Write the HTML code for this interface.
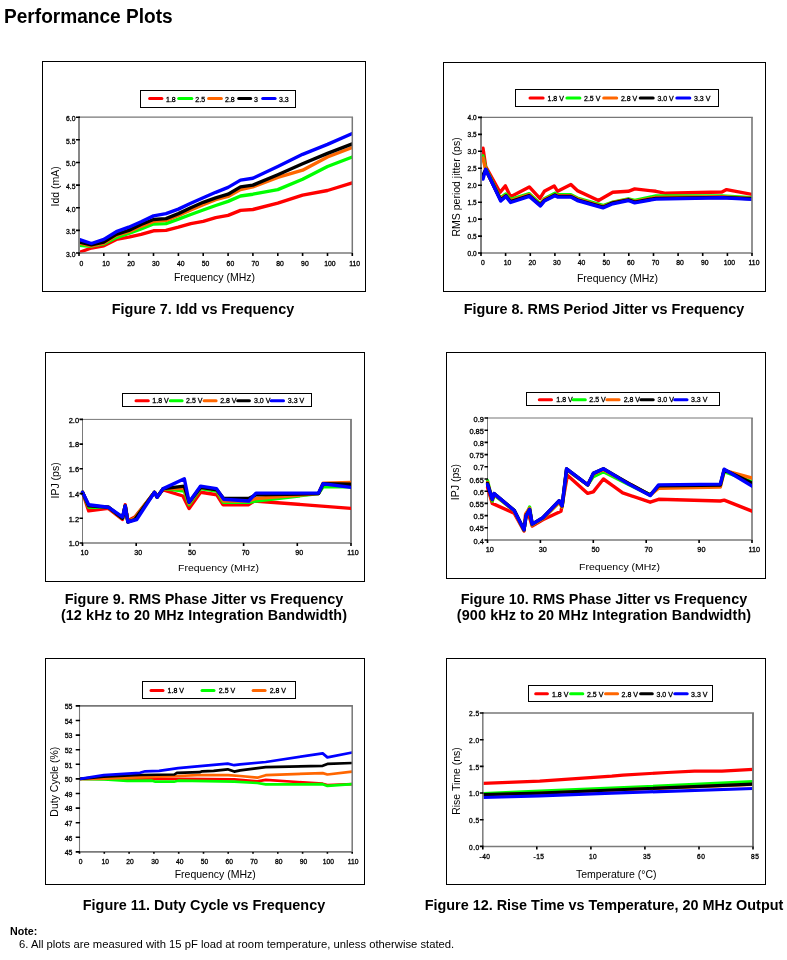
<!DOCTYPE html>
<html><head><meta charset="utf-8"><title>Performance Plots</title>
<style>
html,body{margin:0;padding:0;background:#fff;}
body{width:787px;height:960px;position:relative;overflow:hidden;font-family:"Liberation Sans", sans-serif;color:#000;}
.t{position:absolute;white-space:nowrap;font-weight:bold;will-change:transform;}
.cap{position:absolute;will-change:transform;white-space:nowrap;font-weight:bold;font-size:14.4px;line-height:15.5px;text-align:center;}
svg{position:absolute;left:0;top:0;will-change:transform;}
svg text{font-family:"Liberation Sans", sans-serif;fill:#000;}
svg text.s{stroke:#000;stroke-width:0.3px;}
</style></head><body>
<div class="t" style="left:4.4px;top:4.6px;font-size:19.1px;transform:scale(1,1.07);transform-origin:0 0;">Performance Plots</div>
<svg width="787" height="960" viewBox="0 0 787 960">
<rect x="42.5" y="61.5" width="323.0" height="230.0" fill="none" stroke="#000" stroke-width="1"/>
<clipPath id="c7"><rect x="79.9" y="114.2" width="272.40000000000003" height="140.8"/></clipPath>
<g clip-path="url(#c7)" fill="none" stroke-linejoin="round" stroke-linecap="round" stroke-width="3.4">
<polyline points="79.0,252.5 91.4,248.0 103.8,245.8 116.3,239.4 128.7,237.2 141.1,234.4 153.5,230.8 166.0,230.4 178.4,227.2 190.8,223.6 203.2,221.3 215.7,217.7 228.1,215.4 240.5,210.4 252.9,209.5 277.8,203.2 302.6,195.1 327.5,190.5 352.3,182.8" stroke="#ff0000"/>
<polyline points="79.0,245.3 91.4,246.2 103.8,243.9 116.3,237.6 128.7,233.5 141.1,229.0 153.5,224.0 166.0,223.6 178.4,219.1 190.8,214.5 203.2,210.0 215.7,205.5 228.1,201.4 240.5,196.0 252.9,194.2 277.8,189.6 302.6,179.2 327.5,166.5 352.3,157.0" stroke="#00ff00"/>
<polyline points="79.0,243.0 91.4,245.8 103.8,243.0 116.3,235.3 128.7,231.7 141.1,226.3 153.5,221.3 166.0,220.4 178.4,215.4 190.8,210.0 203.2,204.6 215.7,199.6 228.1,196.4 240.5,189.6 252.9,186.9 277.8,177.4 302.6,170.2 327.5,157.0 352.3,147.5" stroke="#ff6600"/>
<polyline points="79.0,242.1 91.4,244.9 103.8,242.1 116.3,234.4 128.7,230.4 141.1,224.5 153.5,219.5 166.0,218.6 178.4,213.6 190.8,207.7 203.2,202.3 215.7,197.8 228.1,194.2 240.5,186.9 252.9,185.1 277.8,174.7 302.6,163.8 327.5,153.4 352.3,143.9" stroke="#000000"/>
<polyline points="79.0,239.4 91.4,243.5 103.8,239.4 116.3,231.7 128.7,227.2 141.1,221.8 153.5,215.9 166.0,213.6 178.4,209.1 190.8,203.2 203.2,197.8 215.7,192.3 228.1,187.4 240.5,180.1 252.9,178.3 277.8,166.5 302.6,154.3 327.5,144.4 352.3,133.5" stroke="#0000ff"/>
</g>
<path d="M79,117.2H353.05" fill="none" stroke="#777" stroke-width="1.3"/>
<path d="M352.3,117.2V253" fill="none" stroke="#777" stroke-width="1.5"/>
<path d="M79,116.55V253" fill="none" stroke="#7a7a7a" stroke-width="1.8"/>
<path d="M78.1,253H352.95" fill="none" stroke="#7a7a7a" stroke-width="1.7"/>
<path d="M76,253.0H79.9M76,230.4H79.9M76,207.7H79.9M76,185.1H79.9M76,162.5H79.9M76,139.8H79.9M76,117.2H79.9M79.0,253V256M103.8,253V256M128.7,253V256M153.5,253V256M178.4,253V256M203.2,253V256M228.1,253V256M252.9,253V256M277.8,253V256M302.6,253V256M327.5,253V256M352.3,253V256" stroke="#000" stroke-width="1.6"/>
<text x="75.5" y="256.9" class="s" text-anchor="end" font-size="6.8">3.0</text>
<text x="75.5" y="234.3" class="s" text-anchor="end" font-size="6.8">3.5</text>
<text x="75.5" y="211.6" class="s" text-anchor="end" font-size="6.8">4.0</text>
<text x="75.5" y="189.0" class="s" text-anchor="end" font-size="6.8">4.5</text>
<text x="75.5" y="166.4" class="s" text-anchor="end" font-size="6.8">5.0</text>
<text x="75.5" y="143.7" class="s" text-anchor="end" font-size="6.8">5.5</text>
<text x="75.5" y="121.1" class="s" text-anchor="end" font-size="6.8">6.0</text>
<text x="81.3" y="266.3" class="s" text-anchor="middle" font-size="6.8">0</text>
<text x="106.1" y="266.3" class="s" text-anchor="middle" font-size="6.8">10</text>
<text x="131.0" y="266.3" class="s" text-anchor="middle" font-size="6.8">20</text>
<text x="155.8" y="266.3" class="s" text-anchor="middle" font-size="6.8">30</text>
<text x="180.7" y="266.3" class="s" text-anchor="middle" font-size="6.8">40</text>
<text x="205.5" y="266.3" class="s" text-anchor="middle" font-size="6.8">50</text>
<text x="230.4" y="266.3" class="s" text-anchor="middle" font-size="6.8">60</text>
<text x="255.2" y="266.3" class="s" text-anchor="middle" font-size="6.8">70</text>
<text x="280.1" y="266.3" class="s" text-anchor="middle" font-size="6.8">80</text>
<text x="304.9" y="266.3" class="s" text-anchor="middle" font-size="6.8">90</text>
<text x="329.8" y="266.3" class="s" text-anchor="middle" font-size="6.8">100</text>
<text x="354.6" y="266.3" class="s" text-anchor="middle" font-size="6.8">110</text>
<text x="214.5" y="281.1" text-anchor="middle" font-size="10.5">Frequency (MHz)</text>
<text transform="translate(59.1,186.4) rotate(-90)" text-anchor="middle" font-size="10.5">Idd (mA)</text>
<rect x="140.5" y="90.5" width="155.0" height="17.0" fill="#fff" stroke="#000" stroke-width="1"/>
<path d="M149.6,98.4H161.9" stroke="#ff0000" stroke-width="3" stroke-linecap="round"/>
<text class="s" x="166" y="101.8" font-size="7">1.8</text>
<path d="M178.7,98.4H191.8" stroke="#00ff00" stroke-width="3" stroke-linecap="round"/>
<text class="s" x="195.3" y="101.8" font-size="7">2.5</text>
<path d="M208.6,98.4H221.4" stroke="#ff6600" stroke-width="3" stroke-linecap="round"/>
<text class="s" x="225" y="101.8" font-size="7">2.8</text>
<path d="M238.7,98.4H250.7" stroke="#000000" stroke-width="3" stroke-linecap="round"/>
<text class="s" x="254" y="101.8" font-size="7">3</text>
<path d="M262.7,98.4H275.1" stroke="#0000ff" stroke-width="3" stroke-linecap="round"/>
<text class="s" x="279" y="101.8" font-size="7">3.3</text>
<rect x="443.5" y="62.5" width="322.0" height="229.0" fill="none" stroke="#000" stroke-width="1"/>
<clipPath id="c8"><rect x="481.95" y="114.4" width="270.05" height="140.6"/></clipPath>
<g clip-path="url(#c8)" fill="none" stroke-linejoin="round" stroke-linecap="round" stroke-width="3.4">
<polyline points="483.0,148.2 485.7,166.6 500.0,192.3 505.4,185.9 510.6,196.7 529.3,186.9 539.9,198.4 544.3,191.3 554.2,185.9 557.6,191.3 570.9,184.5 577.3,190.6 598.5,200.5 612.8,192.3 628.3,191.3 634.7,188.9 655.9,191.3 665.8,193.3 721.9,192.0 726.6,189.6 752.0,194.4" stroke="#ff0000"/>
<polyline points="483.0,156.0 485.7,168.2 500.2,198.1 505.6,194.0 510.6,199.4 529.3,193.7 540.1,203.8 544.3,198.8 554.9,193.3 557.6,194.7 570.9,194.7 577.3,198.1 603.0,205.5 612.8,202.2 628.3,198.8 634.7,200.5 655.9,196.0 721.9,196.0 752.0,197.7" stroke="#00ff00"/>
<polyline points="483.0,158.1 485.7,169.9 500.2,198.8 505.6,195.4 510.6,200.5 529.3,194.7 540.1,204.9 544.3,199.4 554.9,194.7 557.6,195.7 570.9,195.7 577.3,198.8 603.0,206.6 612.8,202.5 628.3,199.4 634.7,201.5 655.9,197.4 721.9,196.7 752.0,198.4" stroke="#ff6600"/>
<polyline points="483.0,175.0 485.7,169.6 500.7,200.1 505.9,195.7 510.6,201.5 529.3,195.7 540.4,205.2 544.3,200.5 554.9,195.0 557.6,196.4 570.9,196.4 577.3,199.8 603.0,207.2 612.8,202.8 628.3,199.8 634.7,202.2 655.9,198.4 721.9,197.4 752.0,198.8" stroke="#000000"/>
<polyline points="483.0,179.1 485.7,169.3 500.7,201.1 505.9,196.4 510.6,202.5 529.3,196.4 540.4,205.9 544.3,201.1 554.9,195.7 557.6,197.1 570.9,197.1 577.3,200.5 603.0,207.9 612.8,203.8 628.3,200.5 634.7,202.8 655.9,199.1 721.9,197.7 752.0,199.4" stroke="#0000ff"/>
</g>
<path d="M481,117.4H752.8" fill="none" stroke="#777" stroke-width="1.2"/>
<path d="M752,117.4V253" fill="none" stroke="#777" stroke-width="1.6"/>
<path d="M481,116.80000000000001V253" fill="none" stroke="#7a7a7a" stroke-width="1.9"/>
<path d="M480.05,253H752.6" fill="none" stroke="#7a7a7a" stroke-width="1.7"/>
<path d="M478,253.0H481.95M478,236.1H481.95M478,219.1H481.95M478,202.2H481.95M478,185.2H481.95M478,168.2H481.95M478,151.3H481.95M478,134.4H481.95M478,117.4H481.95M481.0,253V256M505.6,253V256M530.3,253V256M554.9,253V256M579.5,253V256M604.2,253V256M628.8,253V256M653.5,253V256M678.1,253V256M702.7,253V256M727.4,253V256M752.0,253V256" stroke="#000" stroke-width="1.6"/>
<text x="476.6" y="255.5" class="s" text-anchor="end" font-size="6.5">0.0</text>
<text x="476.6" y="238.6" class="s" text-anchor="end" font-size="6.5">0.5</text>
<text x="476.6" y="221.6" class="s" text-anchor="end" font-size="6.5">1.0</text>
<text x="476.6" y="204.7" class="s" text-anchor="end" font-size="6.5">1.5</text>
<text x="476.6" y="187.7" class="s" text-anchor="end" font-size="6.5">2.0</text>
<text x="476.6" y="170.8" class="s" text-anchor="end" font-size="6.5">2.5</text>
<text x="476.6" y="153.8" class="s" text-anchor="end" font-size="6.5">3.0</text>
<text x="476.6" y="136.9" class="s" text-anchor="end" font-size="6.5">3.5</text>
<text x="476.6" y="119.9" class="s" text-anchor="end" font-size="6.5">4.0</text>
<text x="483.0" y="264.5" class="s" text-anchor="middle" font-size="6.8">0</text>
<text x="507.6" y="264.5" class="s" text-anchor="middle" font-size="6.8">10</text>
<text x="532.3" y="264.5" class="s" text-anchor="middle" font-size="6.8">20</text>
<text x="556.9" y="264.5" class="s" text-anchor="middle" font-size="6.8">30</text>
<text x="581.5" y="264.5" class="s" text-anchor="middle" font-size="6.8">40</text>
<text x="606.2" y="264.5" class="s" text-anchor="middle" font-size="6.8">50</text>
<text x="630.8" y="264.5" class="s" text-anchor="middle" font-size="6.8">60</text>
<text x="655.5" y="264.5" class="s" text-anchor="middle" font-size="6.8">70</text>
<text x="680.1" y="264.5" class="s" text-anchor="middle" font-size="6.8">80</text>
<text x="704.7" y="264.5" class="s" text-anchor="middle" font-size="6.8">90</text>
<text x="729.4" y="264.5" class="s" text-anchor="middle" font-size="6.8">100</text>
<text x="754.0" y="264.5" class="s" text-anchor="middle" font-size="6.8">110</text>
<text x="617.5" y="282.4" text-anchor="middle" font-size="10.5">Frequency (MHz)</text>
<text transform="translate(460.0,186.9) rotate(-90)" text-anchor="middle" font-size="10.5">RMS period jitter (ps)</text>
<rect x="515.5" y="89.5" width="203.0" height="17.0" fill="#fff" stroke="#000" stroke-width="1"/>
<path d="M530.0,98.0H543.1" stroke="#ff0000" stroke-width="3" stroke-linecap="round"/>
<text class="s" x="547.5" y="100.7" font-size="7">1.8 V</text>
<path d="M566.9,98.0H579.9" stroke="#00ff00" stroke-width="3" stroke-linecap="round"/>
<text class="s" x="584" y="100.7" font-size="7">2.5 V</text>
<path d="M603.7,98.0H616.7" stroke="#ff6600" stroke-width="3" stroke-linecap="round"/>
<text class="s" x="620.9" y="100.7" font-size="7">2.8 V</text>
<path d="M640.2,98.0H653.2" stroke="#000000" stroke-width="3" stroke-linecap="round"/>
<text class="s" x="657.4" y="100.7" font-size="7">3.0 V</text>
<path d="M676.8,98.0H689.8" stroke="#0000ff" stroke-width="3" stroke-linecap="round"/>
<text class="s" x="694" y="100.7" font-size="7">3.3 V</text>
<rect x="45.5" y="352.5" width="319.0" height="229.0" fill="none" stroke="#000" stroke-width="1"/>
<path d="M82.5,419.4H351.9" fill="none" stroke="#777" stroke-width="1"/>
<path d="M351,419.4V543" fill="none" stroke="#777" stroke-width="1.8"/>
<path d="M82.5,418.9V543" fill="none" stroke="#7a7a7a" stroke-width="1"/>
<path d="M82.0,543H351.5" fill="none" stroke="#7a7a7a" stroke-width="1.7"/>
<clipPath id="c9"><rect x="80.5" y="416.4" width="270.5" height="128.60000000000002"/></clipPath>
<g clip-path="url(#c9)" fill="none" stroke-linejoin="round" stroke-linecap="round" stroke-width="3.4">
<polyline points="82.5,492.3 88.7,510.9 108.3,508.4 122.5,519.5 125.2,504.7 127.9,520.8 134.9,517.0 154.5,492.3 157.1,496.0 163.3,489.9 182.9,496.0 189.1,508.4 200.6,492.3 216.8,494.8 222.9,504.7 248.7,504.7 254.1,501.0 318.5,505.9 351.0,508.4" stroke="#ff0000"/>
<polyline points="82.5,492.3 88.7,507.2 108.3,507.2 122.5,518.3 125.2,505.9 127.9,522.0 134.9,518.3 154.5,492.3 157.1,497.3 163.3,488.6 184.3,491.1 189.1,504.7 200.6,488.6 216.8,491.1 223.2,502.2 248.7,502.2 256.0,501.0 318.5,493.6 323.1,486.8 351.0,486.8" stroke="#00ff00"/>
<polyline points="82.5,492.3 88.7,505.9 108.3,507.2 122.5,518.3 125.2,505.9 127.9,522.0 134.9,518.3 154.5,492.3 157.1,497.3 163.3,488.6 184.3,488.6 189.1,503.4 200.6,487.4 216.8,489.9 223.5,501.0 248.7,501.0 256.0,498.5 318.5,493.6 323.1,483.1 351.0,482.4" stroke="#ff6600"/>
<polyline points="82.5,492.3 88.7,505.9 108.3,507.2 122.5,518.3 125.2,505.9 127.9,522.0 134.9,519.5 154.5,492.3 157.1,497.3 163.3,488.6 184.3,486.1 189.1,502.2 200.6,487.4 216.8,489.9 223.7,498.5 248.7,498.5 256.0,494.8 318.5,493.6 323.1,483.7 351.0,484.3" stroke="#000000"/>
<polyline points="82.5,492.3 88.7,504.7 108.3,507.2 122.5,517.0 125.2,505.9 127.9,522.0 136.7,519.5 154.5,492.3 157.1,497.3 163.3,488.6 184.3,478.7 189.1,502.2 200.6,486.1 216.5,488.6 223.7,499.2 248.7,501.0 256.0,493.1 318.5,493.1 323.1,483.7 351.0,487.4" stroke="#0000ff"/>
</g>
<path d="M79.5,543.0H83.0M79.5,518.3H83.0M79.5,493.6H83.0M79.5,468.8H83.0M79.5,444.1H83.0M79.5,419.4H83.0M82.5,543V546M136.2,543V546M189.9,543V546M243.6,543V546M297.3,543V546M351.0,543V546" stroke="#000" stroke-width="1.6"/>
<text x="79.1" y="546.2" class="s" text-anchor="end" font-size="7.5">1.0</text>
<text x="79.1" y="521.5" class="s" text-anchor="end" font-size="7.5">1.2</text>
<text x="79.1" y="496.8" class="s" text-anchor="end" font-size="7.5">1.4</text>
<text x="79.1" y="472.0" class="s" text-anchor="end" font-size="7.5">1.6</text>
<text x="79.1" y="447.3" class="s" text-anchor="end" font-size="7.5">1.8</text>
<text x="79.1" y="422.6" class="s" text-anchor="end" font-size="7.5">2.0</text>
<text x="84.5" y="555" class="s" text-anchor="middle" font-size="7.1">10</text>
<text x="138.2" y="555" class="s" text-anchor="middle" font-size="7.1">30</text>
<text x="191.9" y="555" class="s" text-anchor="middle" font-size="7.1">50</text>
<text x="245.6" y="555" class="s" text-anchor="middle" font-size="7.1">70</text>
<text x="299.3" y="555" class="s" text-anchor="middle" font-size="7.1">90</text>
<text x="353.0" y="555" class="s" text-anchor="middle" font-size="7.1">110</text>
<text transform="translate(218.5,570.7) scale(1,0.88)" text-anchor="middle" font-size="10.5">Frequency (MHz)</text>
<text transform="translate(58.9,480.4) rotate(-90)" text-anchor="middle" font-size="10.5">IPJ (ps)</text>
<rect x="122.5" y="393.5" width="189.0" height="13.0" fill="#fff" stroke="#000" stroke-width="1"/>
<path d="M136.0,400.7H148.3" stroke="#ff0000" stroke-width="3" stroke-linecap="round"/>
<text class="s" x="152.3" y="403.1" font-size="7">1.8 V</text>
<path d="M170.3,400.7H182.1" stroke="#00ff00" stroke-width="3" stroke-linecap="round"/>
<text class="s" x="186.1" y="403.1" font-size="7">2.5 V</text>
<path d="M204.1,400.7H216.1" stroke="#ff6600" stroke-width="3" stroke-linecap="round"/>
<text class="s" x="220.2" y="403.1" font-size="7">2.8 V</text>
<path d="M237.7,400.7H249.4" stroke="#000000" stroke-width="3" stroke-linecap="round"/>
<text class="s" x="254" y="403.1" font-size="7">3.0 V</text>
<path d="M271.2,400.7H283.5" stroke="#0000ff" stroke-width="3" stroke-linecap="round"/>
<text class="s" x="287.8" y="403.1" font-size="7">3.3 V</text>
<rect x="446.5" y="352.5" width="319.0" height="226.0" fill="none" stroke="#000" stroke-width="1"/>
<path d="M487.5,418H752.8" fill="none" stroke="#777" stroke-width="1.2"/>
<path d="M752,418V540" fill="none" stroke="#777" stroke-width="1.6"/>
<path d="M487.5,417.4V540" fill="none" stroke="#7a7a7a" stroke-width="1"/>
<path d="M487.0,540H752.6" fill="none" stroke="#7a7a7a" stroke-width="1.5"/>
<clipPath id="c10"><rect x="485.5" y="415" width="266.5" height="127"/></clipPath>
<g clip-path="url(#c10)" fill="none" stroke-linejoin="round" stroke-linecap="round" stroke-width="3.4">
<polyline points="487.5,487.5 492.3,503.4 514.2,513.2 524.0,531.0 525.6,514.1 529.6,517.8 532.2,526.1 542.8,519.7 561.0,511.2 567.4,475.3 587.7,493.4 593.3,491.9 603.4,479.0 613.7,486.3 622.7,492.9 650.2,502.2 658.6,499.3 720.3,501.0 724.2,500.2 752.0,511.2" stroke="#ff0000"/>
<polyline points="487.5,480.7 492.3,501.0 494.1,494.9 514.2,510.7 524.0,530.2 526.1,515.6 529.6,507.1 532.2,524.9 542.8,518.5 559.2,502.2 562.1,507.1 566.6,469.7 587.7,484.9 593.3,476.6 603.4,471.7 628.7,484.4 650.2,494.9 658.6,487.5 720.3,485.8 724.2,471.7 752.0,481.7" stroke="#00ff00"/>
<polyline points="487.5,482.4 492.3,499.7 494.1,494.1 514.2,510.7 524.0,530.2 526.1,513.2 529.6,508.3 532.2,524.9 542.8,518.5 559.2,502.2 562.1,507.1 566.6,469.7 587.7,484.9 593.3,474.1 603.4,469.7 628.7,483.4 650.2,495.3 658.6,488.3 720.3,487.1 724.2,470.5 752.0,478.0" stroke="#ff6600"/>
<polyline points="487.5,483.4 492.3,499.5 494.1,493.6 514.2,510.2 524.0,529.8 526.1,515.6 529.6,509.5 532.2,524.1 542.8,517.8 559.2,500.7 562.1,505.8 566.6,468.8 587.7,484.9 593.3,473.4 603.4,468.8 628.7,483.4 650.2,494.9 658.6,485.8 720.3,485.1 724.2,469.7 752.0,483.1" stroke="#000000"/>
<polyline points="487.5,484.4 492.3,499.3 494.1,493.6 514.2,510.5 524.0,529.8 526.1,515.8 529.6,509.5 532.2,524.1 542.8,517.8 559.2,500.7 562.1,505.8 566.6,468.8 587.7,484.9 593.3,473.4 603.4,468.8 628.7,484.1 650.2,495.6 658.6,484.9 720.3,484.1 724.2,469.2 752.0,486.1" stroke="#0000ff"/>
</g>
<path d="M484.5,540.0H488.0M484.5,527.8H488.0M484.5,515.6H488.0M484.5,503.4H488.0M484.5,491.2H488.0M484.5,479.0H488.0M484.5,466.8H488.0M484.5,454.6H488.0M484.5,442.4H488.0M484.5,430.2H488.0M484.5,418.0H488.0M487.5,540V543M540.4,540V543M593.3,540V543M646.2,540V543M699.1,540V543M752.0,540V543" stroke="#000" stroke-width="1.6"/>
<text x="483.9" y="543.5" class="s" text-anchor="end" font-size="7.45">0.4</text>
<text x="483.9" y="531.3" class="s" text-anchor="end" font-size="7.45">0.45</text>
<text x="483.9" y="519.1" class="s" text-anchor="end" font-size="7.45">0.5</text>
<text x="483.9" y="506.9" class="s" text-anchor="end" font-size="7.45">0.55</text>
<text x="483.9" y="494.7" class="s" text-anchor="end" font-size="7.45">0.6</text>
<text x="483.9" y="482.5" class="s" text-anchor="end" font-size="7.45">0.65</text>
<text x="483.9" y="470.3" class="s" text-anchor="end" font-size="7.45">0.7</text>
<text x="483.9" y="458.1" class="s" text-anchor="end" font-size="7.45">0.75</text>
<text x="483.9" y="445.9" class="s" text-anchor="end" font-size="7.45">0.8</text>
<text x="483.9" y="433.7" class="s" text-anchor="end" font-size="7.45">0.85</text>
<text x="483.9" y="421.5" class="s" text-anchor="end" font-size="7.45">0.9</text>
<text x="489.8" y="552" class="s" text-anchor="middle" font-size="7.3">10</text>
<text x="542.7" y="552" class="s" text-anchor="middle" font-size="7.3">30</text>
<text x="595.6" y="552" class="s" text-anchor="middle" font-size="7.3">50</text>
<text x="648.5" y="552" class="s" text-anchor="middle" font-size="7.3">70</text>
<text x="701.4" y="552" class="s" text-anchor="middle" font-size="7.3">90</text>
<text x="754.3" y="552" class="s" text-anchor="middle" font-size="7.3">110</text>
<text transform="translate(619.6,570.4) scale(1,0.88)" text-anchor="middle" font-size="10.5">Frequency (MHz)</text>
<text transform="translate(459.2,482.1) rotate(-90)" text-anchor="middle" font-size="10.5">IPJ (ps)</text>
<rect x="526.5" y="392.5" width="193.0" height="13.0" fill="#fff" stroke="#000" stroke-width="1"/>
<path d="M539.3,399.7H551.5" stroke="#ff0000" stroke-width="3" stroke-linecap="round"/>
<text class="s" x="556.3" y="402.2" font-size="7">1.8 V</text>
<path d="M573.1,399.7H585.3" stroke="#00ff00" stroke-width="3" stroke-linecap="round"/>
<text class="s" x="589.3" y="402.2" font-size="7">2.5 V</text>
<path d="M606.9,399.7H619.1" stroke="#ff6600" stroke-width="3" stroke-linecap="round"/>
<text class="s" x="623.7" y="402.2" font-size="7">2.8 V</text>
<path d="M640.9,399.7H653.2" stroke="#000000" stroke-width="3" stroke-linecap="round"/>
<text class="s" x="657.5" y="402.2" font-size="7">3.0 V</text>
<path d="M674.7,399.7H687.0" stroke="#0000ff" stroke-width="3" stroke-linecap="round"/>
<text class="s" x="691" y="402.2" font-size="7">3.3 V</text>
<rect x="45.5" y="658.5" width="319.0" height="226.0" fill="none" stroke="#000" stroke-width="1"/>
<clipPath id="c11"><rect x="80.05" y="702.9" width="272.15" height="151.0"/></clipPath>
<g clip-path="url(#c11)" fill="none" stroke-linejoin="round" stroke-linecap="round" stroke-width="2.7">
<polyline points="79.5,778.9 129.1,778.9 178.7,778.9 234.2,779.3 257.3,781.4 265.7,779.9 322.7,783.7 327.4,785.0 352.2,784.2" stroke="#ff0000"/>
<polyline points="79.5,778.9 104.3,779.5 127.1,780.9 152.1,780.7 155.4,781.7 174.0,781.7 178.2,780.7 234.2,781.7 257.3,783.0 265.7,784.4 322.7,784.2 327.4,785.9 352.2,784.2" stroke="#00ff00"/>
<polyline points="79.5,778.9 104.3,778.6 144.7,777.1 178.2,776.0 197.3,775.1 228.2,775.1 240.1,776.0 257.3,777.7 265.7,775.2 322.7,773.1 327.4,774.5 352.2,771.6" stroke="#ff6600"/>
<polyline points="79.5,778.9 103.8,776.7 140.0,775.0 174.4,774.5 176.9,772.8 199.7,772.2 202.2,771.3 213.6,770.9 227.7,769.3 234.2,771.6 240.1,770.4 265.7,767.2 322.7,765.8 327.4,763.9 352.2,763.0" stroke="#000000"/>
<polyline points="79.5,778.9 103.8,775.2 140.0,772.8 145.2,771.3 159.1,770.9 178.2,768.2 197.3,766.3 227.7,763.6 234.2,765.2 240.1,764.4 265.7,762.0 322.7,753.4 327.4,757.4 352.2,752.5" stroke="#0000ff"/>
</g>
<path d="M79.5,705.9H352.95" fill="none" stroke="#777" stroke-width="1.6"/>
<path d="M352.2,705.9V851.9" fill="none" stroke="#777" stroke-width="1.5"/>
<path d="M79.5,705.1V851.9" fill="none" stroke="#7a7a7a" stroke-width="1.1"/>
<path d="M78.95,851.9H353.0" fill="none" stroke="#7a7a7a" stroke-width="1.6"/>
<path d="M75.7,851.9H80.05M75.7,837.3H80.05M75.7,822.7H80.05M75.7,808.1H80.05M75.7,793.5H80.05M75.7,778.9H80.05M75.7,764.3H80.05M75.7,749.7H80.05M75.7,735.1H80.05M75.7,720.5H80.05M75.7,705.9H80.05M79.5,851.9V853.6999999999999M104.3,851.9V853.6999999999999M129.1,851.9V853.6999999999999M153.9,851.9V853.6999999999999M178.7,851.9V853.6999999999999M203.5,851.9V853.6999999999999M228.2,851.9V853.6999999999999M253.0,851.9V853.6999999999999M277.8,851.9V853.6999999999999M302.6,851.9V853.6999999999999M327.4,851.9V853.6999999999999M352.2,851.9V853.6999999999999" stroke="#000" stroke-width="1.6"/>
<text x="72.5" y="855.1" class="s" text-anchor="end" font-size="7.0">45</text>
<text x="72.5" y="840.5" class="s" text-anchor="end" font-size="7.0">46</text>
<text x="72.5" y="825.9" class="s" text-anchor="end" font-size="7.0">47</text>
<text x="72.5" y="811.3" class="s" text-anchor="end" font-size="7.0">48</text>
<text x="72.5" y="796.7" class="s" text-anchor="end" font-size="7.0">49</text>
<text x="72.5" y="782.1" class="s" text-anchor="end" font-size="7.0">50</text>
<text x="72.5" y="767.5" class="s" text-anchor="end" font-size="7.0">51</text>
<text x="72.5" y="752.9" class="s" text-anchor="end" font-size="7.0">52</text>
<text x="72.5" y="738.3" class="s" text-anchor="end" font-size="7.0">53</text>
<text x="72.5" y="723.7" class="s" text-anchor="end" font-size="7.0">54</text>
<text x="72.5" y="709.1" class="s" text-anchor="end" font-size="7.0">55</text>
<text x="80.5" y="863.6999999999999" class="s" text-anchor="middle" font-size="6.7">0</text>
<text x="105.3" y="863.6999999999999" class="s" text-anchor="middle" font-size="6.7">10</text>
<text x="130.1" y="863.6999999999999" class="s" text-anchor="middle" font-size="6.7">20</text>
<text x="154.9" y="863.6999999999999" class="s" text-anchor="middle" font-size="6.7">30</text>
<text x="179.7" y="863.6999999999999" class="s" text-anchor="middle" font-size="6.7">40</text>
<text x="204.5" y="863.6999999999999" class="s" text-anchor="middle" font-size="6.7">50</text>
<text x="229.2" y="863.6999999999999" class="s" text-anchor="middle" font-size="6.7">60</text>
<text x="254.0" y="863.6999999999999" class="s" text-anchor="middle" font-size="6.7">70</text>
<text x="278.8" y="863.6999999999999" class="s" text-anchor="middle" font-size="6.7">80</text>
<text x="303.6" y="863.6999999999999" class="s" text-anchor="middle" font-size="6.7">90</text>
<text x="328.4" y="863.6999999999999" class="s" text-anchor="middle" font-size="6.7">100</text>
<text x="353.2" y="863.6999999999999" class="s" text-anchor="middle" font-size="6.7">110</text>
<text x="215.2" y="878.2" text-anchor="middle" font-size="10.5">Frequency (MHz)</text>
<text transform="translate(58.2,781.7) rotate(-90)" text-anchor="middle" font-size="10.5">Duty Cycle (%)</text>
<rect x="142.5" y="681.5" width="153.0" height="17.0" fill="#fff" stroke="#000" stroke-width="1"/>
<path d="M151.0,690.5H163.0" stroke="#ff0000" stroke-width="3" stroke-linecap="round"/>
<text class="s" x="167.6" y="693.4" font-size="7">1.8 V</text>
<path d="M202.0,690.5H214.0" stroke="#00ff00" stroke-width="3" stroke-linecap="round"/>
<text class="s" x="218.8" y="693.4" font-size="7">2.5 V</text>
<path d="M253.1,690.5H265.1" stroke="#ff6600" stroke-width="3" stroke-linecap="round"/>
<text class="s" x="269.7" y="693.4" font-size="7">2.8 V</text>
<rect x="446.5" y="658.5" width="319.0" height="226.0" fill="none" stroke="#000" stroke-width="1"/>
<clipPath id="c12"><rect x="483.55" y="710" width="269.45" height="138.39999999999998"/></clipPath>
<g clip-path="url(#c12)" fill="none" stroke-linejoin="round" stroke-linecap="round" stroke-width="3.2">
<polyline points="482.8,783.3 539.7,781.2 611.8,776.2 622.9,775.1 667.0,772.5 694.4,771.2 721.9,771.2 753.0,769.4" stroke="#ff0000"/>
<polyline points="482.8,793.6 539.7,791.1 611.8,788.2 753.0,781.7" stroke="#00ff00"/>
<polyline points="482.8,795.0 539.7,793.4 611.8,790.3 753.0,784.3" stroke="#ff6600"/>
<polyline points="482.8,794.7 539.7,793.1 611.8,790.0 753.0,784.1" stroke="#000000"/>
<polyline points="482.8,797.5 539.7,795.8 611.8,793.1 753.0,788.5" stroke="#0000ff"/>
</g>
<path d="M482.8,713H753.95" fill="none" stroke="#777" stroke-width="1.6"/>
<path d="M753,713V846.4" fill="none" stroke="#777" stroke-width="1.9"/>
<path d="M482.8,712.2V846.4" fill="none" stroke="#7a7a7a" stroke-width="1.5"/>
<path d="M482.05,846.4H753.8" fill="none" stroke="#7a7a7a" stroke-width="1.5"/>
<path d="M479.8,846.4H483.55M479.8,819.7H483.55M479.8,793.0H483.55M479.8,766.4H483.55M479.8,739.7H483.55M479.8,713.0H483.55M482.8,846.4V849.4M536.8,846.4V849.4M590.9,846.4V849.4M644.9,846.4V849.4M699.0,846.4V849.4M753.0,846.4V849.4" stroke="#000" stroke-width="1.6"/>
<text x="479.8" y="849.8" class="s" text-anchor="end" font-size="6.6" letter-spacing="0.55">0.0</text>
<text x="479.8" y="823.1" class="s" text-anchor="end" font-size="6.6" letter-spacing="0.55">0.5</text>
<text x="479.8" y="796.4" class="s" text-anchor="end" font-size="6.6" letter-spacing="0.55">1.0</text>
<text x="479.8" y="769.8" class="s" text-anchor="end" font-size="6.6" letter-spacing="0.55">1.5</text>
<text x="479.8" y="743.1" class="s" text-anchor="end" font-size="6.6" letter-spacing="0.55">2.0</text>
<text x="479.8" y="716.4" class="s" text-anchor="end" font-size="6.6" letter-spacing="0.55">2.5</text>
<text x="485.0" y="858.5" class="s" text-anchor="middle" font-size="6.6" letter-spacing="0.55">-40</text>
<text x="539.0" y="858.5" class="s" text-anchor="middle" font-size="6.6" letter-spacing="0.55">-15</text>
<text x="593.1" y="858.5" class="s" text-anchor="middle" font-size="6.6" letter-spacing="0.55">10</text>
<text x="647.1" y="858.5" class="s" text-anchor="middle" font-size="6.6" letter-spacing="0.55">35</text>
<text x="701.2" y="858.5" class="s" text-anchor="middle" font-size="6.6" letter-spacing="0.55">60</text>
<text x="755.2" y="858.5" class="s" text-anchor="middle" font-size="6.6" letter-spacing="0.55">85</text>
<text x="616.3" y="877.8" text-anchor="middle" font-size="10.5">Temperature (°C)</text>
<text transform="translate(459.6,781) rotate(-90)" text-anchor="middle" font-size="10.5">Rise Time (ns)</text>
<rect x="528.5" y="685.5" width="184.0" height="16.0" fill="#fff" stroke="#000" stroke-width="1"/>
<path d="M535.7,693.7H547.4" stroke="#ff0000" stroke-width="3" stroke-linecap="round"/>
<text class="s" x="552" y="696.9" font-size="7">1.8 V</text>
<path d="M570.6,693.7H582.8" stroke="#00ff00" stroke-width="3" stroke-linecap="round"/>
<text class="s" x="587" y="696.9" font-size="7">2.5 V</text>
<path d="M605.5,693.7H617.6" stroke="#ff6600" stroke-width="3" stroke-linecap="round"/>
<text class="s" x="621.6" y="696.9" font-size="7">2.8 V</text>
<path d="M640.6,693.7H652.3" stroke="#000000" stroke-width="3" stroke-linecap="round"/>
<text class="s" x="656.5" y="696.9" font-size="7">3.0 V</text>
<path d="M674.8,693.7H687.2" stroke="#0000ff" stroke-width="3" stroke-linecap="round"/>
<text class="s" x="691.1" y="696.9" font-size="7">3.3 V</text>
</svg>
<div class="cap" style="left:0px;top:302px;width:406px;">Figure 7. Idd vs Frequency</div>
<div class="cap" style="left:404px;top:302px;width:400px;">Figure 8. RMS Period Jitter vs Frequency</div>
<div class="cap" style="left:4px;top:592px;width:400px;">Figure 9. RMS Phase Jitter vs Frequency<br><span style="letter-spacing:0.1px">(12 kHz to 20 MHz Integration Bandwidth)</span></div>
<div class="cap" style="left:404px;top:592px;width:400px;">Figure 10. RMS Phase Jitter vs Frequency<br><span style="letter-spacing:0.1px">(900 kHz to 20 MHz Integration Bandwidth)</span></div>
<div class="cap" style="left:4px;top:898px;width:400px;">Figure 11. Duty Cycle vs Frequency</div>
<div class="cap" style="left:404px;top:898px;width:400px;">Figure 12. Rise Time vs Temperature, 20 MHz Output</div>
<div class="t" style="left:10px;top:925px;font-size:10.7px;">Note:</div>
<div class="t" style="left:19px;top:937.5px;font-size:11.25px;font-weight:normal;">6. All plots are measured with 15 pF load at room temperature, unless otherwise stated.</div>
</body></html>
